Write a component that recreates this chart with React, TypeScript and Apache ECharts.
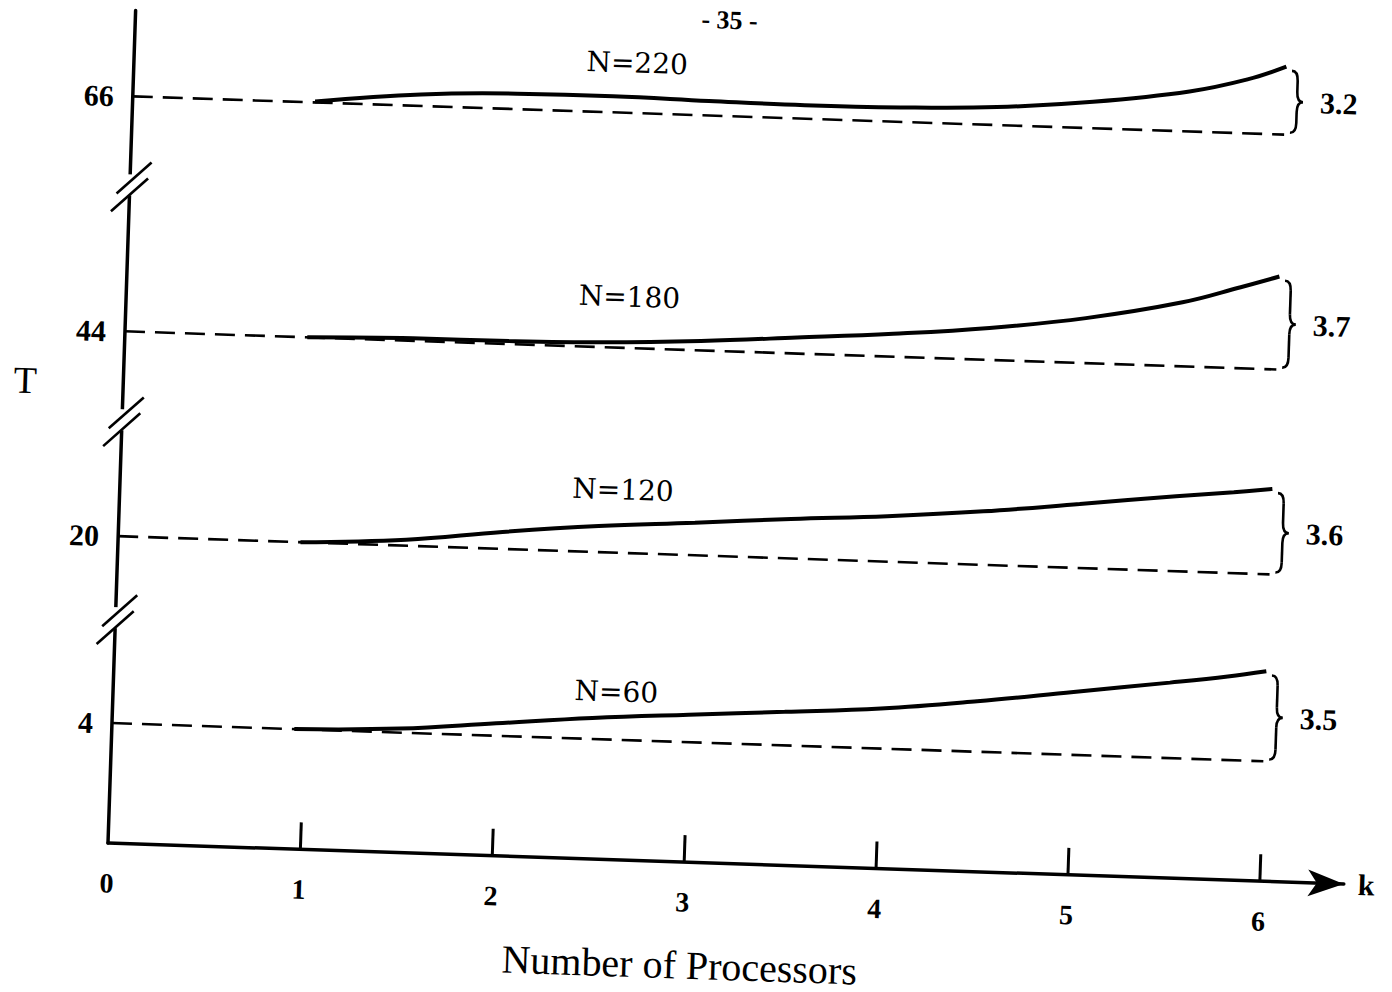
import React, { useEffect, useRef } from "react";
import * as echarts from "echarts";

// ---------------- data ----------------
const kTicks = [0, 1, 2, 3, 4, 5, 6];
const kMarks = [1, 2, 3, 4, 5, 6];
const tLabels = ["4", "20", "44", "66"];
const nLabels = ["N=60", "N=120", "N=180", "N=220"];
const gapLabels = ["3.5", "3.6", "3.7", "3.2"];
// level of each panel's baseline on the broken T axis (display units of the broken axis)
const baseLevels = [120, 307, 512, 747];
// levels of the "//" breaks on the T axis
const breakLevels = [224, 422, 657];
// dashed reference lines run over this k range
const dashedK = [0, 6];
// solid curves: rise above the dashed reference line, sampled at kSamples
const kSamples = [0.95, 1.5, 2, 2.5, 3, 3.5, 4, 4.5, 5, 5.5, 5.8, 6];
const riseN60 = [0, 4, 12.5, 21, 27.5, 33.5, 40, 50.5, 63, 75.5, 83.5, 90];
const riseN120 = [0, 6, 17, 26, 32.5, 39.5, 45.5, 53.5, 64, 75, 81, 85.5];
const riseN180 = [0, 2.5, 3, 5, 9.5, 16, 23, 32, 45, 64, 81, 93];
const riseN220 = [1, 11.5, 15.5, 16, 14.5, 13.5, 14.5, 18, 26.5, 40, 54, 68];

// ---------------- layout ----------------
const X_MAX = 6.44;
const UNIT = 192;
const Y_MAX = 833;
const BRACE_K = 6.03;
const LABEL_K = 2.62;
const nLabelLift = [48, 63, 51, 50];
const NUM_FONT = 'bold 30px "Liberation Serif"';

export default function App() {
  const ref = useRef<HTMLDivElement>(null);

  useEffect(() => {
    if (!ref.current) return;
    const chart = echarts.init(ref.current, undefined, { renderer: "svg" });
    const rises = [riseN60, riseN120, riseN180, riseN220];

    const breakRender = (_p: any, api: any) => {
      const p = api.coord([api.value(0), api.value(1)]);
      const st = { stroke: "#000", lineWidth: 2.6 };
      return {
        type: "group",
        children: [
          { type: "rect", shape: { x: p[0] - 5, y: p[1] - 12, width: 10, height: 21 }, style: { fill: "#fff" } },
          { type: "line", shape: { x1: p[0] + 4 - 17, y1: p[1] - 8.5 + 16, x2: p[0] + 4 + 17, y2: p[1] - 8.5 - 16 }, style: st },
          { type: "line", shape: { x1: p[0] - 18, y1: p[1] + 8.5 + 17, x2: p[0] + 18, y2: p[1] + 8.5 - 17 }, style: st },
        ],
      };
    };

    const braceRender = (_p: any, api: any) => {
      const k = api.value(0);
      const top = api.coord([k, api.value(2)]);
      const bot = api.coord([k, api.value(1)]);
      const idx = api.value(3);
      const x0 = top[0];
      const y1 = top[1] + 4;
      const y2 = bot[1] - 2;
      const ym = (y1 + y2) / 2;
      const w = 6;
      const r = Math.min(10, (y2 - y1) / 4);
      const st = { stroke: "#000", lineWidth: 2.6, fill: null };
      return {
        type: "group",
        children: [
          { type: "bezierCurve", shape: { x1: x0, y1: y1, x2: x0 + w, y2: y1 + r, cpx1: x0 + w, cpy1: y1 }, style: st },
          { type: "line", shape: { x1: x0 + w, y1: y1 + r, x2: x0 + w, y2: ym - r }, style: st },
          { type: "bezierCurve", shape: { x1: x0 + w, y1: ym - r, x2: x0 + 2 * w, y2: ym, cpx1: x0 + w, cpy1: ym }, style: st },
          { type: "bezierCurve", shape: { x1: x0 + 2 * w, y1: ym, x2: x0 + w, y2: ym + r, cpx1: x0 + w, cpy1: ym }, style: st },
          { type: "line", shape: { x1: x0 + w, y1: ym + r, x2: x0 + w, y2: y2 - r }, style: st },
          { type: "bezierCurve", shape: { x1: x0 + w, y1: y2 - r, x2: x0, y2: y2, cpx1: x0 + w, cpy1: y2 }, style: st },
          {
            type: "text",
            style: {
              text: gapLabels[idx],
              x: x0 + 48,
              y: ym,
              font: NUM_FONT,
              fill: "#000",
              align: "center",
              verticalAlign: "middle",
              textAlign: "center",
              textVerticalAlign: "middle",
            },
          },
        ],
      };
    };

    const labelRender = (_p: any, api: any) => {
      const p = api.coord([api.value(0), api.value(1)]);
      const idx = api.value(2);
      return {
        type: "text",
        style: {
          text: nLabels[idx],
          x: p[0],
          y: p[1],
          font: '28px "DejaVu Serif"',
          fill: "#000",
          align: "center",
          verticalAlign: "middle",
          textAlign: "center",
          textVerticalAlign: "middle",
        },
      };
    };

    const option: any = {
      animation: false,
      backgroundColor: "#fff",
      grid: { left: 168, top: 70, width: X_MAX * UNIT, height: Y_MAX },
      xAxis: {
        type: "value",
        min: 0,
        max: X_MAX,
        name: "k",
        nameLocation: "end",
        nameGap: 14,
        nameTextStyle: { fontFamily: "Liberation Serif", fontWeight: "bold", fontSize: 30, color: "#000", verticalAlign: "middle" },
        axisLine: { show: true, symbol: ["none", "arrow"], symbolSize: [20, 36], lineStyle: { color: "#000", width: 3.5 } },
        axisTick: { show: true, inside: true, length: 27, customValues: kMarks, lineStyle: { color: "#000", width: 3 } },
        axisLabel: {
          customValues: kTicks,
          margin: 26,
          fontFamily: "Liberation Serif",
          fontWeight: "bold",
          fontSize: 28,
          color: "#000",
        },
        splitLine: { show: false },
      },
      yAxis: {
        type: "value",
        min: 0,
        max: Y_MAX,
        axisLine: { show: true, lineStyle: { color: "#000", width: 3.5 } },
        axisTick: { show: false },
        axisLabel: {
          customValues: baseLevels,
          formatter: (v: number) => {
            const i = baseLevels.indexOf(v);
            return i >= 0 ? tLabels[i] : "";
          },
          margin: 19,
          fontFamily: "Liberation Serif",
          fontWeight: "bold",
          fontSize: 30,
          color: "#000",
        },
        splitLine: { show: false },
      },
      graphic: [
        {
          type: "text",
          x: 70,
          y: 443,
          style: { text: "T", font: '38px "Liberation Serif"', fill: "#000", align: "center", verticalAlign: "middle", textAlign: "center", textVerticalAlign: "middle" },
        },
        {
          type: "text",
          x: 743,
          y: 1006,
          style: { text: "Number of Processors", font: '40px "Liberation Serif"', fill: "#000", align: "center", verticalAlign: "middle", textAlign: "center", textVerticalAlign: "middle" },
        },
        {
          type: "text",
          x: 762,
          y: 60,
          style: { text: "- 35 -", font: 'bold 26px "Liberation Serif"', fill: "#000", align: "center", verticalAlign: "middle", textAlign: "center", textVerticalAlign: "middle" },
        },
      ],
      series: [
        ...rises.map((_r, i) => ({
          type: "line",
          name: nLabels[i] + " ref",
          data: dashedK.map((k) => [k, baseLevels[i]]),
          symbol: "none",
          silent: true,
          lineStyle: { color: "#000", width: 2.6, type: [20, 10] },
        })),
        ...rises.map((r, i) => ({
          type: "line",
          name: nLabels[i],
          data: kSamples.map((k, j) => [k, baseLevels[i] + r[j]]),
          symbol: "none",
          smooth: 0.4,
          silent: true,
          lineStyle: { color: "#000", width: 4 },
        })),
        {
          type: "custom",
          name: "breaks",
          data: breakLevels.map((v) => [0, v]),
          renderItem: breakRender,
          silent: true,
          z: 5,
        },
        {
          type: "custom",
          name: "braces",
          data: rises.map((r, i) => [BRACE_K, baseLevels[i], baseLevels[i] + r[r.length - 1], i]),
          renderItem: braceRender,
          silent: true,
        },
        {
          type: "custom",
          name: "labels",
          data: nLabels.map((_n, i) => [LABEL_K, baseLevels[i] + nLabelLift[i], i]),
          renderItem: labelRender,
          silent: true,
        },
      ],
    };
    chart.setOption(option);
    return () => chart.dispose();
  }, []);

  return (
    <div style={{ position: "fixed", left: 0, top: 0, width: 1392, height: 992, overflow: "hidden", background: "#fff" }}>
      <div
        ref={ref}
        style={{
          position: "absolute",
          left: -60,
          top: -60,
          width: 1520,
          height: 1120,
          transform: "rotate(1.9deg)",
          transformOrigin: "168px 903px",
        }}
      />
    </div>
  );
}
